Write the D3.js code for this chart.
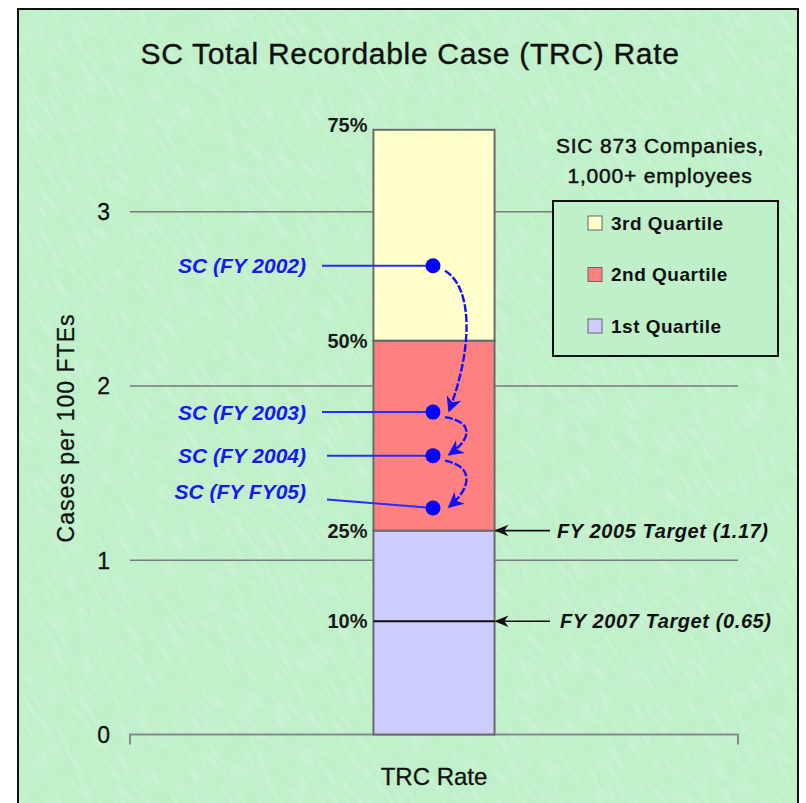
<!DOCTYPE html>
<html>
<head>
<meta charset="utf-8">
<script src="https://cdn.jsdelivr.net/npm/d3@7"></script>
<style>
  body { margin: 0; background: #fff; }
  text { font-family: "Liberation Sans", Arial, sans-serif; }
</style>
</head>
<body>
<svg width="806" height="803"></svg>
<script>
// Quartile bands of the SIC 873 benchmark (cases per 100 FTEs)
const quartileNames = ["1st Quartile", "2nd Quartile", "3rd Quartile"];
const quartileLow = [0, 1.17, 2.26];
const quartileHigh = [1.17, 2.26, 3.47];
const quartileColors = ["#ccccff", "#ff8080", "#ffffcc"];

// Percentile marks on the bar
const pctLabels = ["10%", "25%", "50%", "75%"];
const pctValues = [0.65, 1.17, 2.26, 3.47];

// SC yearly rates
const scLabels = ["SC (FY 2002)", "SC (FY 2003)", "SC (FY 2004)", "SC (FY FY05)"];
const scValues = [2.69, 1.85, 1.60, 1.30];

// Targets
const targetLabels = ["FY 2005 Target (1.17)", "FY 2007 Target (0.65)"];
const targetValues = [1.17, 0.65];

const categories = ["TRC Rate"];
const yTicks = [0, 1, 2, 3];

const svg = d3.select("svg");
const bg = "#bff0c9";

// background texture (diagonal fibres)
const defs = svg.append("defs");
const f = defs.append("filter").attr("id", "paper").attr("x", 0).attr("y", 0).attr("width", 1).attr("height", 1);
f.append("feTurbulence").attr("type", "fractalNoise").attr("baseFrequency", "0.2 0.04").attr("numOctaves", 3).attr("seed", 7);
f.append("feColorMatrix").attr("values", "0 0 0 0 1  0 0 0 0 1  0 0 0 0 1  0 0 0 1.6 -0.7");

defs.append("clipPath").attr("id", "frameClip")
  .append("rect").attr("x", 18).attr("y", 9).attr("width", 780).attr("height", 800);

defs.append("marker").attr("id", "blueHead")
    .attr("viewBox", "0 0 10 10").attr("refX", 9).attr("refY", 5)
    .attr("markerWidth", 6.5).attr("markerHeight", 6.5).attr("orient", "auto")
  .append("path").attr("d", "M0,0 L10,5 L0,10 L3,5 Z").attr("fill", "#1010ff");

defs.append("marker").attr("id", "blackHead")
    .attr("viewBox", "0 0 10 10").attr("refX", 9).attr("refY", 5)
    .attr("markerWidth", 9).attr("markerHeight", 9).attr("orient", "auto")
  .append("path").attr("d", "M0,1 L10,5 L0,9 L3,5 Z").attr("fill", "#111");

svg.append("rect").attr("x", 18).attr("y", 9).attr("width", 780).attr("height", 800)
    .attr("fill", bg);
svg.append("g").attr("clip-path", "url(#frameClip)")
  .append("rect").attr("x", -300).attr("y", -300).attr("width", 1400).attr("height", 1400)
    .attr("transform", "rotate(-35 403 400)")
    .attr("filter", "url(#paper)").attr("opacity", 0.3);
svg.append("rect").attr("x", 18).attr("y", 9).attr("width", 780).attr("height", 800)
    .attr("fill", "none").attr("stroke", "#111").attr("stroke-width", 2);

// scales
const y = d3.scaleLinear().domain([0, 3]).range([734.5, 211.7]);
const x = d3.scaleBand().domain(categories).range([130, 738]).paddingInner(0).paddingOuter(2.01);
const bx = x("TRC Rate"), bw = x.bandwidth();

// title
svg.append("text").attr("x", 410).attr("y", 64).attr("text-anchor", "middle")
    .attr("font-size", 30).attr("letter-spacing", 0.7).attr("fill", "#111")
    .attr("stroke", "#111").attr("stroke-width", 0.4)
    .text("SC Total Recordable Case (TRC) Rate");

// gridlines
svg.append("g").selectAll("line").data(yTicks.filter(d => d > 0)).join("line")
    .attr("x1", 130).attr("x2", 738)
    .attr("y1", d => y(d)).attr("y2", d => y(d))
    .attr("stroke", "#7a7a7a").attr("stroke-width", 1.5);

// base axis with end ticks
svg.append("path")
    .attr("d", `M130,${y(0) + 10}V${y(0)}H738V${y(0) + 10}`)
    .attr("fill", "none").attr("stroke", "#8a8a8a").attr("stroke-width", 2);

// y tick labels
svg.append("g").selectAll("text").data(yTicks).join("text")
    .attr("x", 110).attr("y", d => y(d)).attr("dy", "0.36em")
    .attr("text-anchor", "end").attr("font-size", 23).attr("fill", "#111")
    .attr("stroke", "#111").attr("stroke-width", 0.3)
    .text(d => d);

// y axis title
svg.append("text").attr("transform", "translate(74,428) rotate(-90)")
    .attr("text-anchor", "middle").attr("font-size", 23).attr("letter-spacing", 1)
    .attr("fill", "#111").attr("stroke", "#111").attr("stroke-width", 0.3)
    .text("Cases per 100 FTEs");

// x label
svg.append("text").attr("x", bx + bw / 2).attr("y", 785).attr("text-anchor", "middle")
    .attr("font-size", 24).attr("fill", "#111").attr("stroke", "#111").attr("stroke-width", 0.3)
    .text(categories[0]);

// stacked quartile bar
svg.append("g").selectAll("rect").data(quartileNames).join("rect")
    .attr("x", bx).attr("width", bw)
    .attr("y", (d, i) => y(quartileHigh[i]))
    .attr("height", (d, i) => y(quartileLow[i]) - y(quartileHigh[i]))
    .attr("fill", (d, i) => quartileColors[i])
    .attr("stroke", "#6b6b6b").attr("stroke-width", 2);

// 10% line inside the bar
svg.append("line").attr("x1", bx).attr("x2", bx + bw)
    .attr("y1", y(pctValues[0])).attr("y2", y(pctValues[0]))
    .attr("stroke", "#111").attr("stroke-width", 2);

// percentile labels
svg.append("g").selectAll("text").data(pctLabels).join("text")
    .attr("x", bx - 6).attr("y", (d, i) => y(pctValues[i]))
    .attr("dy", (d, i) => i === 3 ? "0.1em" : "0.36em")
    .attr("text-anchor", "end").attr("font-size", 20).attr("font-weight", "bold")
    .attr("fill", "#1a1a1a").text(d => d);

// targets
const tg = svg.append("g").selectAll("g").data(targetLabels).join("g");
tg.append("line")
    .attr("x1", 550).attr("x2", bx + bw + 1)
    .attr("y1", (d, i) => y(targetValues[i])).attr("y2", (d, i) => y(targetValues[i]))
    .attr("stroke", "#111").attr("stroke-width", 1.6).attr("marker-end", "url(#blackHead)");
tg.append("text")
    .attr("x", (d, i) => i === 0 ? 557 : 560).attr("y", (d, i) => y(targetValues[i]))
    .attr("dy", "0.36em").attr("font-size", 20).attr("font-weight", "bold").attr("font-style", "italic")
    .attr("letter-spacing", 0.6).attr("fill", "#111").text(d => d);

// SC points
const cx = bx + bw / 2 - 1;
const labelShift = [0, 0, 0, -17];
const leaderStart = [322, 322, 327, 327];

const sc = svg.append("g").selectAll("g").data(scLabels).join("g");
sc.append("line")
    .attr("x1", (d, i) => leaderStart[i]).attr("y1", (d, i) => y(scValues[i]) + labelShift[i] * 0.5)
    .attr("x2", cx).attr("y2", (d, i) => y(scValues[i]))
    .attr("stroke", "#2a2aff").attr("stroke-width", 2);
sc.append("text")
    .attr("x", 306).attr("y", (d, i) => y(scValues[i]) + labelShift[i])
    .attr("dy", "0.36em").attr("text-anchor", "end")
    .attr("font-size", 21).attr("font-weight", "bold").attr("font-style", "italic")
    .attr("fill", "#1818f0").text(d => d);

// curved dashed arrows from year to year
const steps = d3.pairs(scValues);
svg.append("g").selectAll("path").data(steps).join("path")
    .attr("d", ([a, b]) => {
        const y0 = y(a) + 5, y1 = y(b) - 1, bulge = cx + 40;
        const h = y1 - y0;
        return `M${cx + 12},${y0} C${bulge},${y0 + h * 0.12} ${bulge},${y1 - h * 0.45} ${cx + 16},${y1}`;
    })
    .attr("fill", "none").attr("stroke", "#1010ff").attr("stroke-width", 2.4)
    .attr("stroke-dasharray", "8,2").attr("marker-end", "url(#blueHead)");

svg.append("g").selectAll("circle").data(scValues).join("circle")
    .attr("cx", cx).attr("cy", d => y(d)).attr("r", 7.5).attr("fill", "#0000ff");

// legend
svg.append("text").attr("x", 660).attr("y", 153).attr("text-anchor", "middle")
    .attr("font-size", 21).attr("letter-spacing", 0.8).attr("fill", "#111")
    .attr("stroke", "#111").attr("stroke-width", 0.5)
    .text("SIC 873 Companies,");
svg.append("text").attr("x", 660).attr("y", 183).attr("text-anchor", "middle")
    .attr("font-size", 21).attr("letter-spacing", 0.8).attr("fill", "#111")
    .attr("stroke", "#111").attr("stroke-width", 0.5)
    .text("1,000+ employees");

svg.append("rect").attr("x", 553).attr("y", 201).attr("width", 225).attr("height", 155)
    .attr("fill", bg);
svg.append("rect").attr("x", 553).attr("y", 201).attr("width", 225).attr("height", 155)
    .attr("fill", "none").attr("stroke", "#111").attr("stroke-width", 2);

const legendOrder = [2, 1, 0];
const lg = svg.append("g").selectAll("g").data(legendOrder).join("g")
    .attr("transform", (d, k) => `translate(588,${223 + k * 51.5})`);
lg.append("rect").attr("x", 0).attr("y", -7).attr("width", 14).attr("height", 14)
    .attr("fill", d => quartileColors[d]).attr("stroke", "#666").attr("stroke-width", 1);
lg.append("text").attr("x", 23).attr("dy", "0.36em")
    .attr("font-size", 19).attr("font-weight", "bold").attr("letter-spacing", 0.5).attr("fill", "#111")
    .text(d => quartileNames[d]);
</script>
</body>
</html>
